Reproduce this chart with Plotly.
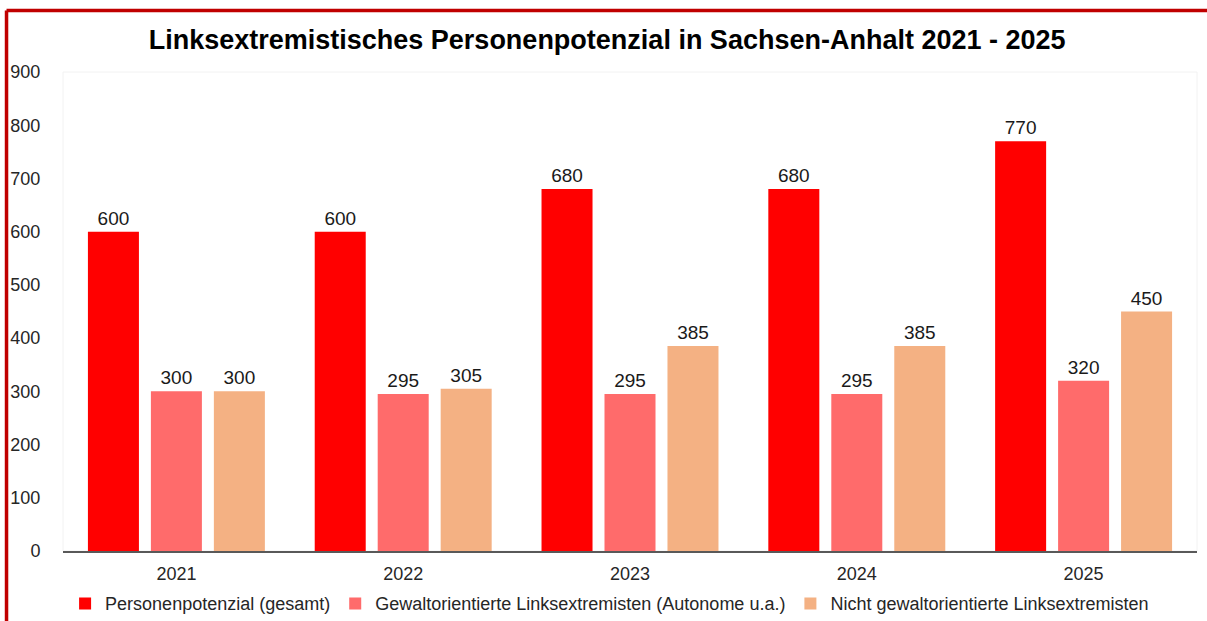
import plotly.graph_objects as go

years = ["2021", "2022", "2023", "2024", "2025"]
gesamt = [600, 600, 680, 680, 770]
gewalt = [300, 295, 295, 295, 320]
nicht_gewalt = [300, 305, 385, 385, 450]
series_names = [
    "Personenpotenzial (gesamt)",
    "Gewaltorientierte Linksextremisten (Autonome u.a.)",
    "Nicht gewaltorientierte Linksextremisten",
]
colors = ["#FF0000", "#FF6B6B", "#F4B183"]

FONT = "Liberation Sans, Arial, sans-serif"

fig = go.Figure()
for name, vals, col in zip(series_names, [gesamt, gewalt, nicht_gewalt], colors):
    fig.add_trace(go.Bar(
        x=years, y=vals, name=name,
        marker=dict(color=col, line=dict(width=0)),
        text=[str(v) for v in vals], textposition="outside",
        textfont=dict(size=19, color="#1a1a1a", family=FONT),
        cliponaxis=False,
    ))

fig.update_layout(
    width=1207, height=621,
    margin=dict(l=63, r=10, t=72, b=70, autoexpand=False),
    paper_bgcolor="white", plot_bgcolor="white",
    barmode="group", bargap=0.167, bargroupgap=0.19,
    title=dict(
        text="<b>Linksextremistisches Personenpotenzial in Sachsen-Anhalt 2021 - 2025</b>",
        x=0.503, xanchor="center", y=0.937, yanchor="middle",
        font=dict(size=27, color="#000000", family=FONT),
    ),
    font=dict(family=FONT, size=18, color="#262626"),
    xaxis=dict(
        showline=True, linecolor="#595959", linewidth=1.5,
        ticks="outside", ticklen=6, tickcolor="rgba(0,0,0,0)",
        tickfont=dict(size=18, color="#262626"),
        showgrid=False, automargin=False,
    ),
    yaxis=dict(
        range=[0, 900], dtick=100, showgrid=False, zeroline=False,
        showline=False, ticks="outside", ticklen=18, tickcolor="rgba(0,0,0,0)",
        tickfont=dict(size=18, color="#262626"), automargin=False,
    ),
    legend=dict(
        orientation="h", x=0.482, xanchor="center", y=-0.11, yanchor="middle",
        font=dict(size=18, color="#262626"), itemwidth=30,
        traceorder="normal",
    ),
    shapes=[
        dict(type="line", xref="paper", yref="paper", x0=-0.0498, x1=1.2,
             y0=1.1284, y1=1.1284, line=dict(color="#C00000", width=3.5)),
        dict(type="line", xref="paper", yref="paper", x0=-0.0498, x1=-0.0498,
             y0=1.1284, y1=-0.3, line=dict(color="#C00000", width=3.5)),
        dict(type="rect", xref="paper", yref="paper", x0=0, x1=1, y0=0, y1=1,
             line=dict(color="#F2F2F2", width=1), layer="below"),
    ],
)

fig.write_html(
    "out.html",
    config={"displayModeBar": False},
    post_script="document.body.style.margin='0';document.body.style.overflow='hidden';",
)
